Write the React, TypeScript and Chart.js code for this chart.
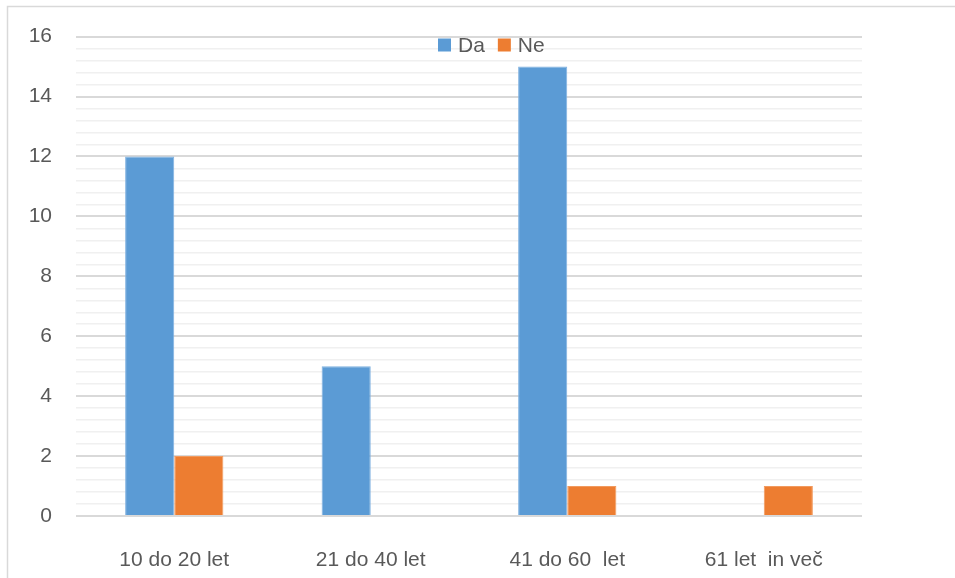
import React, { useEffect, useRef } from "react";
import { Chart, registerables } from "chart.js";

Chart.register(...registerables);

const categories = ["10 do 20 let", "21 do 40 let", "41 do 60  let", "61 let  in več"];
const seriesDa = [12, 5, 15, 0];
const seriesNe = [2, 0, 1, 1];
const seriesNames = ["Da", "Ne"];
const yMin = 0;
const yMax = 16;
const yMajorStep = 2;
const yMinorStep = 0.4;

const FONT = "'Liberation Sans', Arial, sans-serif";
const TEXT = "#595959";

const isMajor = (v: number) => Math.abs(v / yMajorStep - Math.round(v / yMajorStep)) < 1e-6;

const framePlugin = {
  id: "frame",
  beforeDraw(chart: any) {
    const c = chart.ctx;
    c.save();
    c.strokeStyle = "#d9d9d9";
    c.lineWidth = 1.5;
    c.beginPath();
    c.moveTo(7.5, chart.height);
    c.lineTo(7.5, 6.5);
    c.lineTo(chart.width, 6.5);
    c.stroke();
    c.restore();
  },
};

const legendPlugin = {
  id: "customLegend",
  afterDraw(chart: any) {
    const c = chart.ctx;
    c.save();
    c.font = `21px ${FONT}`;
    c.textBaseline = "middle";
    c.textAlign = "left";
    const box = 13;
    const y = 45;
    let x = 438;
    chart.data.datasets.forEach((ds: any) => {
      c.fillStyle = ds.backgroundColor;
      c.fillRect(x, y - box / 2, box, box);
      c.fillStyle = TEXT;
      c.fillText(ds.label, x + box + 7, y + 1);
      x += box + 7 + c.measureText(ds.label).width + 13;
    });
    c.restore();
  },
};

export default function App() {
  const ref = useRef<HTMLCanvasElement | null>(null);
  useEffect(() => {
    if (!ref.current) return;
    const chart = new Chart(ref.current, {
      type: "bar",
      data: {
        labels: categories,
        datasets: [
          { label: seriesNames[0], data: seriesDa, backgroundColor: "#5B9BD5", borderColor: "#7fb1e0", borderWidth: 1 },
          { label: seriesNames[1], data: seriesNe, backgroundColor: "#ED7D31", borderColor: "#f29a5e", borderWidth: 1 },
        ],
      },
      options: {
        animation: false,
        responsive: false,
        devicePixelRatio: 1,
        layout: { padding: { top: 36, right: 93, left: 0, bottom: 0 } },
        datasets: { bar: { categoryPercentage: 0.5, barPercentage: 1 } },
        plugins: { legend: { display: false }, tooltip: { enabled: false } },
        scales: {
          x: {
            grid: { display: false },
            border: { display: false },
            ticks: { color: TEXT, font: { family: FONT, size: 21 }, padding: 24, maxRotation: 0 },
            afterFit: (s: any) => { s.height = 62; },
          },
          y: {
            min: yMin,
            max: yMax,
            border: { display: false },
            grid: {
              drawTicks: false,
              color: (ctx: any) => (isMajor(ctx.tick.value) ? "#d9d9d9" : "#f0f0f0"),
              lineWidth: (ctx: any) => (isMajor(ctx.tick.value) ? 2 : 1.5),
            },
            ticks: {
              stepSize: yMinorStep,
              autoSkip: false,
              color: TEXT,
              font: { family: FONT, size: 21 },
              padding: 24,
              callback: (v: any) => (isMajor(Number(v)) ? String(Math.round(Number(v))) : ""),
            },
            afterFit: (s: any) => { s.width = 76; },
          },
        },
      },
      plugins: [framePlugin, legendPlugin],
    });
    return () => chart.destroy();
  }, []);
  return (
    <div style={{ position: "fixed", left: 0, top: 0, width: 955, height: 578, background: "#fff" }}>
      <canvas ref={ref} width={955} height={578} style={{ display: "block" }} />
    </div>
  );
}
